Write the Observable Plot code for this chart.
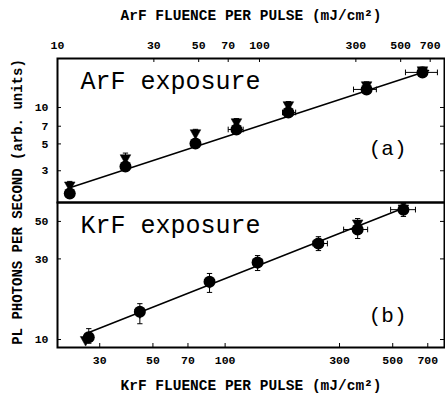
<!DOCTYPE html>
<html><head><meta charset="utf-8">
<script src="https://cdn.jsdelivr.net/npm/d3@7"></script>
<script src="https://cdn.jsdelivr.net/npm/@observablehq/plot@0.6"></script>
<style>
body{margin:0;background:#fff;}
#wrap{position:relative;width:445px;height:394px;overflow:hidden;}
#wrap svg{position:absolute;left:0;}
</style></head><body><div id="wrap"></div>
<script>
// ---- Data: ArF exposure (top panel) ----
const arfFluence  = [11.5, 21.7, 48.2, 76.9, 139, 339, 641];
const arfCircle   = [1.95, 3.25, 5.04, 6.58, 9.1, 14.1, 19.5];
const arfTriangle = [2.26, 3.79, 6.1, 7.52, 10.4, 15.2, 20.2];
const arfErrLo    = [1.8, 3.0, 4.7, 6.2, 8.6, 13.3, 18.6];
const arfErrHi    = [2.45, 4.2, 6.6, 8.1, 11.2, 16.3, 21.5];
const arfFluLo    = [null, null, null, 70, 130, 292, 528];
const arfFluHi    = [null, null, null, 83, 151, 379, 760];
const arfFitFluence = [11.6, 687];
const arfFitSignal  = [2.18, 20.2];

// ---- Data: KrF exposure (bottom panel) ----
const krfFluence    = [27.0, 44.1, 86.1, 136.6, 245, 357, 554];
const krfTriFluence = [26.2, 44.1, 86.1, 136.6, 245, 357, 554];
const krfCircle     = [10.3, 14.6, 22.0, 28.6, 37.0, 44.8, 58.7];
const krfTriangle   = [9.9, 14.4, 21.6, 28.2, 36.6, 48.5, 59.5];
const krfErrLo      = [9.5, 12.4, 19.0, 25.6, 33.6, 39.6, 53.5];
const krfErrHi      = [11.6, 16.3, 24.6, 31.4, 40.6, 52.0, 63.8];
const krfFluLo      = [null, null, null, null, 232, 312, 490];
const krfFluHi      = [null, null, null, null, 267, 393, 622];
const krfFitFluence = [27.0, 549];
const krfFitSignal  = [11.0, 59.6];

// ---- Ticks & labels ----
const arfXTicks = [10, 30, 50, 70, 100, 300, 500, 700];
const krfXTicks = [30, 50, 70, 100, 300, 500, 700];
const arfYTicks = [3, 5, 7, 10];
const krfYTicks = [10, 30, 50];
const arfXTitle = "ArF FLUENCE PER PULSE (mJ/cm²)";
const krfXTitle = "KrF FLUENCE PER PULSE (mJ/cm²)";
const yTitle = "PL PHOTONS PER SECOND (arb. units)";
const arfLabel = "ArF exposure", krfLabel = "KrF exposure";
const arfTag = "(a)", krfTag = "(b)";

const FONT = "'Liberation Mono', 'DejaVu Sans Mono', monospace";
const capH = {draw(ctx, size){ const r = Math.sqrt(size); ctx.moveTo(-r,0); ctx.lineTo(r,0); }};
const capV = {draw(ctx, size){ const r = Math.sqrt(size); ctx.moveTo(0,-r); ctx.lineTo(0,r); }};
const triDown = {draw(ctx, size){ const w = Math.sqrt(size)*0.6; ctx.moveTo(-w,-w*0.7); ctx.lineTo(w,-w*0.7); ctx.lineTo(0,w*1.1); ctx.closePath(); }};

function rowsOf(xs, c, t, tx, lo, hi, xlo, xhi){
  return xs.map((x,i)=>({x, c:c[i], t:t[i], tx:tx[i], lo:lo[i], hi:hi[i], xlo:xlo[i], xhi:xhi[i]}));
}

function panel({rows, fitX, fitY, xDomain, yDomain, xTicks, yTicks, xAnchor, title, label, tag, height, marginTop, marginBottom}){
  const W = 445, mL = 57, mR = 1;
  const frameH = height - marginTop - marginBottom, frameW = W - mL - mR;
  const fit = fitX.map((x,i)=>({x, y: fitY[i]}));
  const hb = rows.filter(d => d.xlo != null);
  const isTop = xAnchor === "top";
  return Plot.plot({
    width: W, height, marginTop, marginBottom, marginLeft: mL, marginRight: mR,
    style: {background: "transparent", fontFamily: FONT, fontWeight: "bold", fontSize: "11.5px", color: "black", overflow: "visible"},
    x: {type: "log", domain: xDomain, axis: null},
    y: {type: "log", domain: yDomain, axis: null},
    marks: [
      Plot.text(xTicks, {x: d => d, text: d => String(d), frameAnchor: xAnchor, dy: isTop ? -13 : 13, lineAnchor: "middle"}),
      Plot.text(yTicks, {y: d => d, text: d => String(d), frameAnchor: "left", dx: -9, textAnchor: "end", lineAnchor: "middle"}),
      Plot.tickX(xTicks, {x: d => d, stroke: "black", insetBottom: isTop ? frameH - 4 : 0, insetTop: isTop ? 0 : frameH - 4}),
      Plot.tickY(yTicks, {y: d => d, stroke: "black", insetRight: frameW - 4}),
      Plot.tickY(yTicks, {y: d => d, stroke: "black", insetLeft: frameW - 4}),
      Plot.line(fit, {x: "x", y: "y", stroke: "black", strokeWidth: 1.5}),
      Plot.link(rows, {x1: "x", x2: "x", y1: "lo", y2: "hi", stroke: "black", strokeWidth: 1}),
      Plot.dot(rows, {x: "x", y: "lo", symbol: capH, r: 1.5, stroke: "black", strokeWidth: 1}),
      Plot.dot(rows, {x: "x", y: "hi", symbol: capH, r: 1.5, stroke: "black", strokeWidth: 1}),
      Plot.link(hb, {x1: "xlo", x2: "xhi", y1: "c", y2: "c", stroke: "black", strokeWidth: 1}),
      Plot.dot(hb, {x: "xlo", y: "c", symbol: capV, r: 1.6, stroke: "black", strokeWidth: 1}),
      Plot.dot(hb, {x: "xhi", y: "c", symbol: capV, r: 1.6, stroke: "black", strokeWidth: 1}),
      Plot.dot(rows, {x: "tx", y: "t", symbol: triDown, r: 5, fill: "black", stroke: "black", strokeWidth: 0.5}),
      Plot.dot(rows, {x: "x", y: "c", r: 6, fill: "black", stroke: "none"}),
      Plot.text([title], {text: d => d, frameAnchor: xAnchor, dy: isTop ? -43 : 38, fontSize: 14.5, lineAnchor: "middle"}),
      Plot.text([label], {text: d => d, frameAnchor: "top-left", textAnchor: "start", dx: 23, dy: 22, fontSize: 25, fontWeight: "normal", lineAnchor: "middle"}),
      Plot.text([tag], {text: d => d, frameAnchor: "bottom-right", textAnchor: "end", dx: -38, dy: isTop ? -54 : -32, fontSize: 21, fontWeight: "normal", lineAnchor: "middle"}),
      Plot.frame({stroke: "black", strokeWidth: 2})
    ]
  });
}

const wrap = document.getElementById("wrap");
const topSvg = panel({
  rows: rowsOf(arfFluence, arfCircle, arfTriangle, arfFluence, arfErrLo, arfErrHi, arfFluLo, arfFluHi),
  fitX: arfFitFluence, fitY: arfFitSignal,
  xDomain: [10, 824], yDomain: [1.64, 25.4], xTicks: arfXTicks, yTicks: arfYTicks,
  xAnchor: "top", title: arfXTitle, label: arfLabel, tag: arfTag,
  height: 204, marginTop: 58, marginBottom: 2
});
topSvg.style.top = "0px";
const botSvg = panel({
  rows: rowsOf(krfFluence, krfCircle, krfTriangle, krfTriFluence, krfErrLo, krfErrHi, krfFluLo, krfFluHi),
  fitX: krfFitFluence, fitY: krfFitSignal,
  xDomain: [20, 822], yDomain: [8.97, 64.7], xTicks: krfXTicks, yTicks: krfYTicks,
  xAnchor: "bottom", title: krfXTitle, label: krfLabel, tag: krfTag,
  height: 194, marginTop: 2, marginBottom: 47
});
botSvg.style.top = "200px";
wrap.append(topSvg, botSvg);

const ov = d3.select(wrap).append("svg").attr("width", 445).attr("height", 394).style("top", "0px").style("pointer-events", "none");
ov.append("text")
  .attr("transform", "translate(18,202) rotate(-90)")
  .attr("text-anchor", "middle").attr("dominant-baseline", "central")
  .attr("font-family", FONT).attr("font-weight", "bold").attr("font-size", 14)
  .text(yTitle);
</script></body></html>
